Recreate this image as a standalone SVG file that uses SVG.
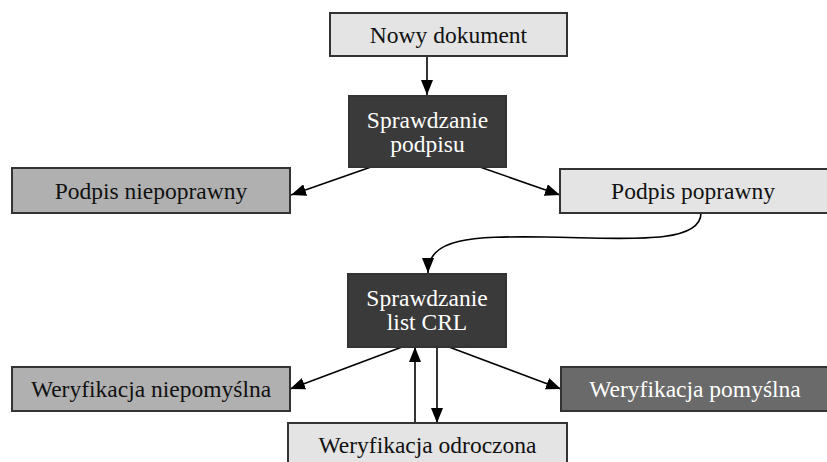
<svg xmlns="http://www.w3.org/2000/svg" width="827" height="462" viewBox="0 0 827 462">
  <defs>
    <marker id="arrow" viewBox="0 0 15 12" refX="15" refY="6" markerWidth="15" markerHeight="12" markerUnits="userSpaceOnUse" orient="auto">
      <path d="M0,0 L15,6 L0,12 Z" fill="#000"/>
    </marker>
    <style>
      .box { stroke: #333; stroke-width: 2; }
      .light { fill: #e3e4e3; }
      .mid { fill: #b0b0b0; }
      .dark { fill: #3a3a3a; }
      .steel { fill: #6a6a6a; }
      .lbl { font-family: "Liberation Serif", "DejaVu Serif", serif; font-size: 23.5px; text-anchor: middle; fill: #111; }
      .inv { fill: #fff; }
      .edge { fill: none; stroke: #000; stroke-width: 1.6; marker-end: url(#arrow); }
    </style>
  </defs>
  <rect width="827" height="462" fill="#fff"/>

  <g id="connectors">
    <line class="edge" x1="427" y1="56" x2="427" y2="95"/>
    <line class="edge" x1="371" y1="167" x2="291" y2="195"/>
    <line class="edge" x1="480" y1="167" x2="560" y2="195"/>
    <path class="edge" d="M701,213 C701,246 620,238 545,237 C470,236 428,238 428,273"/>
    <line class="edge" x1="402" y1="347" x2="290" y2="389"/>
    <line class="edge" x1="449" y1="347" x2="561" y2="389"/>
    <line class="edge" x1="415" y1="423" x2="415" y2="347"/>
    <line class="edge" x1="437" y1="347" x2="437" y2="423"/>
  </g>

  <g id="nowy-dokument">
    <rect class="box light" x="330" y="13" width="237" height="43"/>
    <text class="lbl" x="448.5" y="43">Nowy dokument</text>
  </g>

  <g id="sprawdzanie-podpisu">
    <rect class="box dark" x="349" y="96" width="157" height="71"/>
    <text class="lbl inv" x="427.5" y="128">Sprawdzanie</text>
    <text class="lbl inv" x="427.5" y="152">podpisu</text>
  </g>

  <g id="podpis-niepoprawny">
    <rect class="box mid" x="12" y="168" width="278" height="45"/>
    <text class="lbl" x="151" y="199">Podpis niepoprawny</text>
  </g>

  <g id="podpis-poprawny">
    <rect class="box light" x="560" y="169" width="270" height="44"/>
    <text class="lbl" x="693" y="199">Podpis poprawny</text>
  </g>

  <g id="sprawdzanie-crl">
    <rect class="box dark" x="348" y="274" width="158" height="73"/>
    <text class="lbl inv" x="427" y="306">Sprawdzanie</text>
    <text class="lbl inv" x="427" y="330">list CRL</text>
  </g>

  <g id="weryfikacja-niepomyslna">
    <rect class="box mid" x="12" y="367" width="278" height="44"/>
    <text class="lbl" x="151" y="397">Weryfikacja niepomyślna</text>
  </g>

  <g id="weryfikacja-pomyslna">
    <rect class="box steel" x="561" y="367" width="270" height="44"/>
    <text class="lbl inv" x="695" y="397">Weryfikacja pomyślna</text>
  </g>

  <g id="weryfikacja-odroczona">
    <rect class="box light" x="288" y="423" width="279" height="45"/>
    <text class="lbl" x="427.5" y="453">Weryfikacja odroczona</text>
  </g>
</svg>
